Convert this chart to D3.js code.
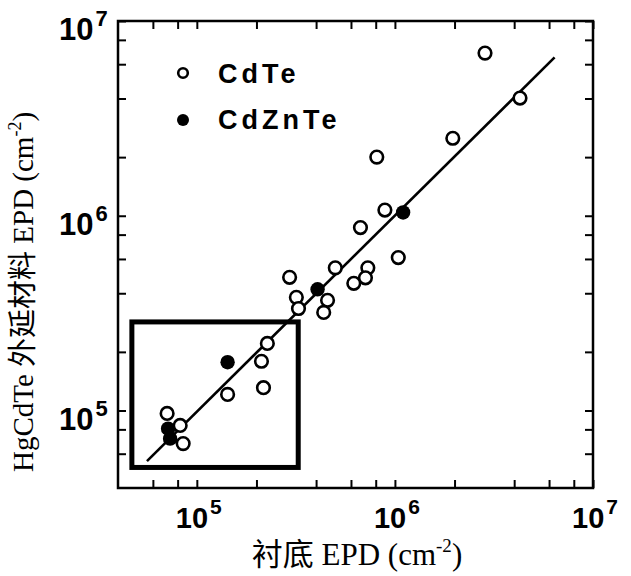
<!DOCTYPE html>
<html>
<head>
<meta charset="utf-8">
<script src="https://cdn.jsdelivr.net/npm/d3@7"></script>
<style>
  html, body { margin: 0; padding: 0; background: #fff; }
  svg { display: block; }
</style>
</head>
<body>
<svg id="chart" width="631" height="576"></svg>
<script>
// Substrate EPD vs. HgCdTe epilayer EPD (cm^-2)
const cdteSubstrate = [2.85e6, 4.28e6, 1.96e6, 8.1e5, 8.9e5, 6.7e5, 1.04e6, 5.0e5, 7.3e5, 7.1e5, 6.2e5,
                       2.94e5, 3.18e5, 3.26e5, 4.57e5, 4.37e5, 2.27e5, 2.12e5, 2.17e5, 1.43e5, 7.08e4, 8.24e4, 8.53e4];
const cdteEpi       = [6.84e6, 4.02e6, 2.5e6, 2.0e6, 1.07e6, 8.7e5, 6.1e5, 5.4e5, 5.4e5, 4.8e5, 4.5e5,
                       4.83e5, 3.81e5, 3.34e5, 3.68e5, 3.19e5, 2.21e5, 1.79e5, 1.31e5, 1.21e5, 9.66e4, 8.38e4, 6.76e4];
const czteSubstrate = [1.1e6, 4.07e5, 1.43e5, 7.16e4, 7.33e4];
const czteEpi       = [1.04e6, 4.19e5, 1.77e5, 8.07e4, 7.17e4];

// Fitted trend line end points
const fitSubstrate = [5.6e4, 6.4e6];
const fitEpi       = [5.5e4, 6.5e6];

// Highlighted low-EPD region
const boxSubstrate = [4.7e4, 3.25e5];
const boxEpi       = [5.1e4, 2.85e5];

const axisDomain = [4e4, 1e7];
const tickValues = [6e4, 8e4, 1e5, 2e5, 4e5, 6e5, 8e5, 1e6, 2e6, 4e6, 6e6, 8e6, 1e7];
const labelledTicks = [1e5, 1e6, 1e7];
const labelledTicksY = [1e5, 1e6, 1e7];

const legendNames = ["CdTe", "CdZnTe"];

const svg = d3.select("#chart");
const L = 118, R = 593, T = 21, B = 488;

const x = d3.scaleLog().domain(axisDomain).range([L, R]);
const y = d3.scaleLog().domain(axisDomain).range([B, T]);

const tickLen = 8;
function styleAxis(g) {
  g.select(".domain").remove();
  g.selectAll(".tick line").attr("stroke", "#000").attr("stroke-width", 2);
  g.selectAll(".tick text").remove();
}
svg.append("g").attr("transform", `translate(0,${B})`)
  .call(d3.axisBottom(x).tickValues(tickValues).tickSizeInner(-tickLen).tickSizeOuter(0)).call(styleAxis);
svg.append("g").attr("transform", `translate(0,${T})`)
  .call(d3.axisTop(x).tickValues(tickValues).tickSizeInner(-tickLen).tickSizeOuter(0)).call(styleAxis);
svg.append("g").attr("transform", `translate(${L},0)`)
  .call(d3.axisLeft(y).tickValues(tickValues).tickSizeInner(-tickLen).tickSizeOuter(0)).call(styleAxis);
svg.append("g").attr("transform", `translate(${R},0)`)
  .call(d3.axisRight(y).tickValues(tickValues).tickSizeInner(-tickLen).tickSizeOuter(0)).call(styleAxis);

// Frame
svg.append("rect")
  .attr("x", x(axisDomain[0])).attr("y", y(axisDomain[1]))
  .attr("width", x(axisDomain[1]) - x(axisDomain[0]))
  .attr("height", y(axisDomain[0]) - y(axisDomain[1]))
  .attr("fill", "none").attr("stroke", "#000").attr("stroke-width", 2.5);

// Power-of-ten tick labels
const tickFont = "'Liberation Sans', Arial, sans-serif";
function powLabel(sel, v, base, sup) {
  const e = Math.round(Math.log10(v));
  sel.attr("font-family", tickFont).attr("font-weight", "bold").attr("fill", "#000");
  sel.append("tspan").attr("font-size", base).text("10");
  sel.append("tspan").attr("font-size", sup).attr("dx", 2).attr("dy", -14).text(e);
}
labelledTicks.forEach(v => {
  svg.append("text").attr("x", x(v) - 21).attr("y", 528).call(powLabel, v, 29, 21);
});
labelledTicksY.forEach(v => {
  svg.append("text").attr("x", 59).attr("y", y(v) + 19).call(powLabel, v, 31, 22);
});

// Highlight box
svg.append("rect")
  .attr("x", x(boxSubstrate[0])).attr("y", y(boxEpi[1]))
  .attr("width", x(boxSubstrate[1]) - x(boxSubstrate[0]))
  .attr("height", y(boxEpi[0]) - y(boxEpi[1]))
  .attr("fill", "none").attr("stroke", "#000").attr("stroke-width", 5);

// Trend line
svg.append("line")
  .attr("x1", x(fitSubstrate[0])).attr("y1", y(fitEpi[0]))
  .attr("x2", x(fitSubstrate[1])).attr("y2", y(fitEpi[1]))
  .attr("stroke", "#000").attr("stroke-width", 2.6);

// Data points
const cdte = cdteSubstrate.map((s, i) => ({ s, e: cdteEpi[i] }));
const czte = czteSubstrate.map((s, i) => ({ s, e: czteEpi[i] }));
svg.append("g").selectAll("circle").data(cdte).join("circle")
  .attr("cx", d => x(d.s)).attr("cy", d => y(d.e)).attr("r", 6.3)
  .attr("fill", "#fff").attr("stroke", "#000").attr("stroke-width", 2.6);
svg.append("g").selectAll("circle").data(czte).join("circle")
  .attr("cx", d => x(d.s)).attr("cy", d => y(d.e)).attr("r", 7.2)
  .attr("fill", "#000");

// Legend
const legend = svg.append("g");
legend.append("circle").attr("cx", 183).attr("cy", 73).attr("r", 4.8)
  .attr("fill", "#fff").attr("stroke", "#000").attr("stroke-width", 2.6);
legend.append("circle").attr("cx", 183).attr("cy", 120).attr("r", 6)
  .attr("fill", "#000");
legend.selectAll("text").data(legendNames).join("text")
  .attr("x", 218).attr("y", (d, i) => 83 + i * 46)
  .attr("font-family", tickFont).attr("font-weight", "bold").attr("font-size", 27)
  .attr("letter-spacing", 4).attr("fill", "#000").text(d => d);

// Axis titles
const titleFont = "'Liberation Serif', 'Times New Roman', 'Noto Sans CJK SC', serif";
const xt = svg.append("text").attr("x", 357).attr("y", 565).attr("text-anchor", "middle")
  .attr("font-family", titleFont).attr("font-size", 31).attr("fill", "#000");
xt.append("tspan").text("衬底 EPD (cm");
xt.append("tspan").attr("font-size", 19).attr("dy", -13).text("-2");
xt.append("tspan").attr("dy", 13).text(")");

const yt = svg.append("text").attr("transform", "translate(33,292) rotate(-90)")
  .attr("text-anchor", "middle")
  .attr("font-family", titleFont).attr("font-size", 29).attr("fill", "#000");
yt.append("tspan").text("HgCdTe 外延材料 EPD (cm");
yt.append("tspan").attr("font-size", 18).attr("dy", -12).text("-2");
yt.append("tspan").attr("dy", 12).text(")");
</script>
</body>
</html>
